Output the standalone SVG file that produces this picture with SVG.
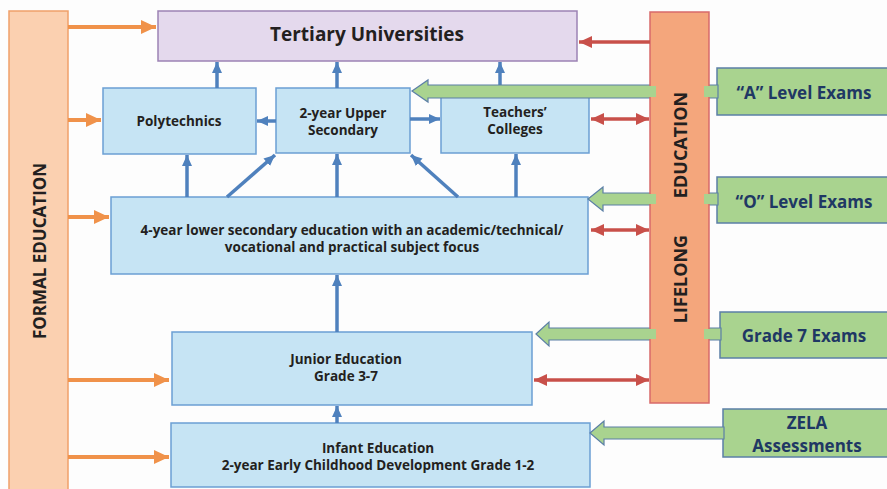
<svg xmlns="http://www.w3.org/2000/svg" width="887" height="489" viewBox="0 0 887 489">
  <defs>
    <style>
      .box { fill: #c6e4f4; stroke: #6b9fd3; stroke-width: 1.5; }
      .uni { fill: #e4d9ed; stroke: #9c82b4; stroke-width: 1.5; }
      .formal { fill: #fbd0b0; stroke: #f0a06a; stroke-width: 1.5; }
      .lifelong { fill: #f4a67c; stroke: #d7696a; stroke-width: 1.5; }
      .exam { fill: #a9d38f; stroke: #5b7fa6; stroke-width: 1.5; }
      .garrow { fill: #a9d38f; stroke: #5b7fa6; stroke-width: 1.2; }
      .gbit { fill: #a9d38f; }
      .t { font-family: "Open Sans", Lato, "Liberation Sans", sans-serif; font-weight: 700; fill: #231f20; text-anchor: middle; dominant-baseline: central; }
      .lbl { font-size: 13.5px; }
      .bar { font-size: 17px; }
      .ex { font-family: "Open Sans", Lato, "Liberation Sans", sans-serif; font-weight: 700; fill: #1f3864; font-size: 17px; text-anchor: middle; dominant-baseline: central; }
      .blue { stroke: #4f81bd; stroke-width: 3.5; fill: none; marker-end: url(#hb); }
      .orange { stroke: #f0924a; stroke-width: 4; fill: none; marker-end: url(#ho); }
      .red { stroke: #c8504a; stroke-width: 3.5; fill: none; marker-end: url(#hr); }
      .red2 { stroke: #c8504a; stroke-width: 3.5; fill: none; marker-end: url(#hr); marker-start: url(#hrs); }
    </style>
    <marker id="hb" markerUnits="userSpaceOnUse" markerWidth="12" markerHeight="12" viewBox="0 0 12 12" refX="11" refY="6" orient="auto">
      <path d="M0,1 L11,6 L0,11 Z" fill="#4f81bd"/>
    </marker>
    <marker id="ho" markerUnits="userSpaceOnUse" markerWidth="16" markerHeight="16" viewBox="0 0 16 16" refX="15" refY="8" orient="auto">
      <path d="M0,1 L15,8 L0,15 Z" fill="#f0924a"/>
    </marker>
    <marker id="hr" markerUnits="userSpaceOnUse" markerWidth="14" markerHeight="14" viewBox="0 0 14 14" refX="13" refY="7" orient="auto">
      <path d="M0,1 L13,7 L0,13 Z" fill="#c8504a"/>
    </marker>
    <marker id="hrs" markerUnits="userSpaceOnUse" markerWidth="14" markerHeight="14" viewBox="0 0 14 14" refX="1" refY="7" orient="auto">
      <path d="M14,1 L1,7 L14,13 Z" fill="#c8504a"/>
    </marker>
  </defs>

  <rect width="887" height="489" fill="#fdfdfd"/>

  <!-- vertical bands -->
  <g id="formal-education">
    <rect class="formal" x="9" y="11" width="59" height="485"/>
    <text class="t bar" transform="translate(39,251) rotate(-90)">FORMAL EDUCATION</text>
  </g>

  <!-- institution nodes -->
  <g id="tertiary">
    <rect class="uni" x="158" y="11" width="419" height="50"/>
    <text class="t" x="367" y="34" font-size="19">Tertiary Universities</text>
  </g>
  <g id="polytechnics">
    <rect class="box" x="103" y="88" width="153" height="66"/>
    <text class="t lbl" x="179" y="121">Polytechnics</text>
  </g>
  <g id="upper-secondary">
    <rect class="box" x="276" y="88" width="134" height="65"/>
    <text class="t lbl" x="343" y="113">2-year Upper</text>
    <text class="t lbl" x="343" y="130">Secondary</text>
  </g>
  <g id="teachers-colleges">
    <rect class="box" x="441" y="88" width="148" height="65"/>
    <text class="t lbl" x="515" y="112">Teachers’</text>
    <text class="t lbl" x="515" y="129">Colleges</text>
  </g>
  <g id="lower-secondary">
    <rect class="box" x="111" y="197" width="477" height="77"/>
    <text class="t lbl" x="352" y="230">4-year lower secondary education with an academic/technical/</text>
    <text class="t lbl" x="352" y="247">vocational and practical subject focus</text>
  </g>
  <g id="junior">
    <rect class="box" x="172" y="332" width="360" height="73"/>
    <text class="t lbl" x="346" y="359">Junior Education</text>
    <text class="t lbl" x="346" y="376">Grade 3-7</text>
  </g>
  <g id="infant">
    <rect class="box" x="171" y="423" width="419" height="64"/>
    <text class="t lbl" x="378" y="448">Infant Education</text>
    <text class="t lbl" x="378" y="465">2-year Early Childhood Development Grade 1-2</text>
  </g>

  <!-- assessment nodes -->
  <g id="a-level">
    <rect class="exam" x="717" y="68" width="180" height="47"/>
    <text class="ex" x="804" y="92">“A”  Level Exams</text>
  </g>
  <g id="o-level">
    <rect class="exam" x="717" y="177" width="180" height="46"/>
    <text class="ex" x="804" y="201">“O” Level Exams</text>
  </g>
  <g id="grade7">
    <rect class="exam" x="720" y="312" width="180" height="46"/>
    <text class="ex" x="804" y="335">Grade 7 Exams</text>
  </g>
  <g id="zela">
    <rect class="exam" x="723" y="409" width="180" height="48"/>
    <text class="ex" x="807" y="422">ZELA</text>
    <text class="ex" x="807" y="445">Assessments</text>
  </g>

  <!-- connectors -->
  <g id="connectors">
    <!-- progression (blue) -->
    <line class="blue" x1="217" y1="88" x2="217" y2="62"/>
    <line class="blue" x1="337" y1="88" x2="337" y2="62"/>
    <line class="blue" x1="500" y1="88" x2="500" y2="62"/>
    <line class="blue" x1="276" y1="121" x2="257" y2="121"/>
    <line class="blue" x1="410" y1="119" x2="440" y2="119"/>
    <line class="blue" x1="187" y1="197" x2="187" y2="155"/>
    <line class="blue" x1="227" y1="197" x2="275" y2="155"/>
    <line class="blue" x1="337" y1="197" x2="337" y2="154"/>
    <line class="blue" x1="458" y1="197" x2="411" y2="155"/>
    <line class="blue" x1="516" y1="197" x2="516" y2="154"/>
    <line class="blue" x1="337" y1="332" x2="337" y2="275"/>
    <line class="blue" x1="337" y1="423" x2="337" y2="406"/>

    <!-- formal education entry (orange) -->
    <line class="orange" x1="68" y1="27" x2="156" y2="27"/>
    <line class="orange" x1="68" y1="120" x2="101" y2="120"/>
    <line class="orange" x1="68" y1="217" x2="109" y2="217"/>
    <line class="orange" x1="68" y1="380" x2="169" y2="380"/>
    <line class="orange" x1="68" y1="457" x2="169" y2="457"/>

    <!-- exam feeds (green block arrows) -->
    <polygon class="garrow" points="412,91 428,80 428,85 718,85 718,98 428,98 428,102"/>
    <polygon class="garrow" points="588,199 603,187 603,193 718,193 718,205 603,205 603,211"/>
    <polygon class="garrow" points="536,334 549,322 549,328 721,328 721,340 549,340 549,346"/>
    <polygon class="garrow" points="590,433 604,421 604,427 724,427 724,439 604,439 604,445"/>
  </g>

  <g id="lifelong-education">
    <rect class="lifelong" x="650" y="12" width="59" height="391"/>
    <text class="t" font-size="18" transform="translate(680,0) rotate(-90)"><tspan x="-279" y="0">LIFELONG</tspan><tspan x="-145" y="0">EDUCATION</tspan></text>
  </g>

  <!-- lifelong links (red) and exam shafts crossing the band edges -->
  <g id="connectors-lifelong">
    <rect class="gbit" x="649" y="86" width="7" height="11"/>
    <rect class="gbit" x="704" y="86" width="7" height="11"/>
    <rect class="gbit" x="649" y="194" width="7" height="10"/>
    <rect class="gbit" x="704" y="194" width="7" height="10"/>
    <rect class="gbit" x="649" y="329" width="7" height="10"/>
    <rect class="gbit" x="704" y="329" width="7" height="10"/>
    <line class="red" x1="650" y1="42" x2="579" y2="42"/>
    <line class="red2" x1="591" y1="119" x2="649" y2="119"/>
    <line class="red2" x1="591" y1="230" x2="649" y2="230"/>
    <line class="red2" x1="534" y1="380" x2="649" y2="380"/>
  </g>
</svg>
